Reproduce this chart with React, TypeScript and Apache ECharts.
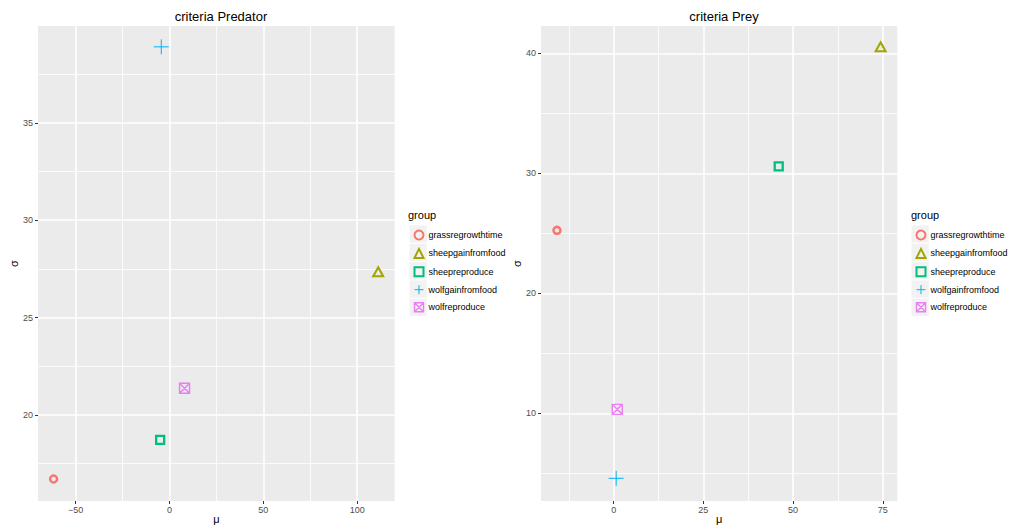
import React, { useEffect, useRef } from 'react';
import * as echarts from 'echarts';

const groups = ['grassregrowthtime', 'sheepgainfromfood', 'sheepreproduce', 'wolfgainfromfood', 'wolfreproduce'];
const groupColors = ['#F8766D', '#A3A500', '#00BF7D', '#00B0F6', '#E76BF3'];

const predatorMu = [-61.8, 111.2, -5.0, -4.4, 8.0];
const predatorSigma = [16.71, 27.35, 18.72, 38.9, 21.37];
const preyMu = [-15.8, 74.4, 46.0, 0.7, 1.0];
const preySigma = [25.25, 40.55, 30.58, 4.58, 10.33];

const predXTicks = [-50, 0, 50, 100];
const predXMinor = [-25, 25, 75];
const predYTicks = [20, 25, 30, 35];
const predYMinor = [17.5, 22.5, 27.5, 32.5, 37.5];
const preyXTicks = [0, 25, 50, 75];
const preyXMinor = [-12.5, 12.5, 37.5, 62.5];
const preyYTicks = [10, 20, 30, 40];
const preyYMinor = [5, 15, 25, 35];

const predXLim = [-70.1, 120.0];
const predYLim = [15.58, 39.97];
const preyXLim = [-20.25, 79.05];
const preyYLim = [2.69, 42.28];

const FONT = '"Liberation Sans", Arial, Helvetica, sans-serif';

const symbols = [
  'circle',
  'triangle',
  'rect',
  'path://M5,0V10M0,5H10',
  'path://M0,0H10V10H0ZM0,0L10,10M10,0L0,10',
];
const symbolSizes: any[] = [7, [10, 9], 8, 15, 10];
const borderWidths = [2.5, 2, 2.3, 1.0, 1.4];

const fmt = (v: number) => String(v).replace('-', '\u2212');

function majorAxis(dim: 'x' | 'y', gridIndex: number, lim: number[], ticks: number[]) {
  const isX = dim === 'x';
  return {
    type: 'value',
    gridIndex,
    min: lim[0],
    max: lim[1],
    name: isX ? 'μ' : 'σ',
    nameLocation: 'middle',
    nameGap: isX ? 12 : 15,
    nameMoveOverlap: isX ? false : true,
    nameTextStyle: { color: '#000', fontSize: 11, fontFamily: FONT },
    axisLine: { show: false, onZero: false },
    axisTick: { show: true, length: 3, lineStyle: { color: '#333', width: 1 }, customValues: ticks },
    axisLabel: { customValues: ticks, color: '#4D4D4D', fontSize: 9, fontFamily: FONT, margin: isX ? 4 : 5, formatter: fmt },
    splitLine: { show: true, lineStyle: { color: '#FFFFFF', width: 1.6 } },
  };
}

function minorAxis(gridIndex: number, lim: number[], ticks: number[]) {
  return {
    type: 'value',
    gridIndex,
    min: lim[0],
    max: lim[1],
    axisLine: { show: false, onZero: false },
    axisTick: { show: false, customValues: ticks },
    axisLabel: { show: false, customValues: ticks },
    splitLine: { show: true, lineStyle: { color: '#FFFFFF', width: 0.8 } },
  };
}

function panelSeries(mu: number[], sigma: number[], axisIndex: number) {
  return groups.map((g, i) => ({
    type: 'scatter',
    name: g,
    xAxisIndex: axisIndex,
    yAxisIndex: axisIndex,
    data: [[mu[i], sigma[i]]],
    symbol: symbols[i],
    symbolSize: symbolSizes[i],
    itemStyle: {
      color: 'rgba(0,0,0,0)',
      borderColor: groupColors[i],
      borderWidth: borderWidths[i],
      opacity: i === 4 ? 0.85 : 1,
    },
    emphasis: { disabled: true },
    z: 3,
  }));
}

function legendData() {
  return groups.map((g, i) => ({
    name: g,
    icon: symbols[i],
    itemStyle: {
      color: 'rgba(0,0,0,0)',
      borderColor: groupColors[i],
      borderWidth: Math.min(borderWidths[i], 2),
    },
  }));
}

function legendFor(left: number) {
  return {
    orient: 'vertical',
    left,
    top: 229.5,
    padding: 0,
    itemWidth: 9,
    itemHeight: 9,
    itemGap: 7.4,
    selectedMode: false,
    data: legendData(),
    textStyle: { color: '#000', fontSize: 9, fontFamily: FONT, lineHeight: 10 },
  };
}

function keyRects(x: number) {
  return groups.map((_, i) => ({
    type: 'rect',
    z: 1,
    shape: { x, y: 234 + i * 18.33 - 8.6, width: 17.3, height: 17.3 },
    style: { fill: '#F2F2F2' },
  }));
}

export default function App() {
  const ref = useRef<HTMLDivElement>(null);
  useEffect(() => {
    if (!ref.current) return;
    const chart = echarts.init(ref.current, undefined, { renderer: 'svg' });
    chart.setOption({
      animation: false,
      backgroundColor: '#FFFFFF',
      textStyle: { fontFamily: FONT },
      title: [
        { text: 'criteria Predator', left: 216, top: 5, textAlign: 'center', textStyle: { fontSize: 13, fontWeight: 'normal', color: '#000', fontFamily: FONT } },
        { text: 'criteria Prey', left: 719, top: 5, textAlign: 'center', textStyle: { fontSize: 13, fontWeight: 'normal', color: '#000', fontFamily: FONT } },
      ],
      grid: [
        { left: 38, top: 26, width: 356.7, height: 475, show: true, backgroundColor: '#EBEBEB', borderWidth: 0, containLabel: false, outerBoundsMode: 'none' },
        { left: 541, top: 26, width: 356.3, height: 475, show: true, backgroundColor: '#EBEBEB', borderWidth: 0, containLabel: false, outerBoundsMode: 'none' },
      ],
      xAxis: [
        majorAxis('x', 0, predXLim, predXTicks),
        minorAxis(0, predXLim, predXMinor),
        majorAxis('x', 1, preyXLim, preyXTicks),
        minorAxis(1, preyXLim, preyXMinor),
      ],
      yAxis: [
        majorAxis('y', 0, predYLim, predYTicks),
        minorAxis(0, predYLim, predYMinor),
        majorAxis('y', 1, preyYLim, preyYTicks),
        minorAxis(1, preyYLim, preyYMinor),
      ],
      legend: [legendFor(413.5), legendFor(915.5)],
      graphic: [
        { type: 'text', left: 408, top: 209, style: { text: 'group', fontSize: 11, fontFamily: FONT, fill: '#000' } },
        { type: 'text', left: 911, top: 209, style: { text: 'group', fontSize: 11, fontFamily: FONT, fill: '#000' } },
        ...keyRects(409.5),
        ...keyRects(911.5),
      ],
      series: [
        ...panelSeries(predatorMu, predatorSigma, 0),
        ...panelSeries(preyMu, preySigma, 2),
      ],
    });
    return () => chart.dispose();
  }, []);
  return <div ref={ref} style={{ position: 'fixed', left: 0, top: 0, width: 1021, height: 527 }} />;
}
